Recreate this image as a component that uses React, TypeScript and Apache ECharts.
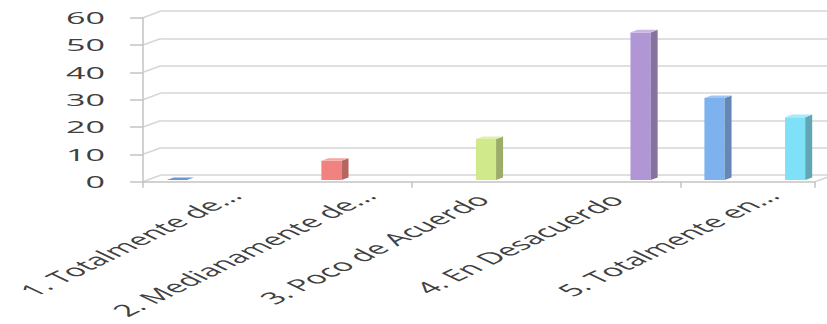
import React, { useEffect, useRef } from "react";
import * as echarts from "echarts";

// ---- data ----
const categories = [
  "1. Totalmente de...",
  "2. Medianamente de...",
  "3. Poco de Acuerdo",
  "4. En Desacuerdo",
  "5. Totalmente en...",
];
const serie1: (number | null)[] = [0, null, null, null, 30];
const serie2: (number | null)[] = [null, 7, null, null, null];
const serie3: (number | null)[] = [null, null, 15, null, null];
const serie4: (number | null)[] = [null, null, null, 54, null];
const serie5: (number | null)[] = [null, null, null, null, 23];
const yTicks = [0, 10, 20, 30, 40, 50, 60];

const allSeries = [serie1, serie2, serie3, serie4, serie5];

// ---- styles ----
const palette = [
  { front: "#7eb2ee", side: "#6388b8", top: "#a2c6f3", zero: "#6a96d4" },
  { front: "#f2827f", side: "#b56663", top: "#f6a4a1", zero: "#f2827f" },
  { front: "#d0ea8b", side: "#9cad69", top: "#e0f1ad", zero: "#d0ea8b" },
  { front: "#b196d5", side: "#86729f", top: "#c9b6e4", zero: "#b196d5" },
  { front: "#7ee1f8", side: "#62a6b6", top: "#a9ebfb", zero: "#7ee1f8" },
];
const GRID_LEFT = 143;
const GRID_TOP = 17.7;
const GRID_W = 672;
const GRID_H = 164;
const DEPTH_X = 18;
const DEPTH_Y = 6.6;
const BAR_SHIFT_X = 7;
const BAR_SHIFT_Y = -1.7;
const BAR_DX = 7;
const BAR_DY = 2.6;
const GAP = 0.25;
const SLOTS = 5;
const AXIS_COLOR = "#c3c3c3";
const GRID_COLOR = "#d6d6d6";
const TEXT_COLOR = "#404040";
const FONT = "'Open Sans', sans-serif";
const FONT_SIZE = 16.4;
const STRETCH = 2.08;
// Excel shifts truncated (ellipsis) labels up-right relative to full labels
const TRUNC_DX = 21;
const TRUNC_DY = -4;

function barRender(slot: number) {
  const c = palette[slot];
  return (params: any, api: any) => {
    const cat = api.value(0);
    const val = api.value(1);
    const band = api.size([1, 0])[0];
    const base = api.coord([cat, 0]);
    const top = api.coord([cat, val]);
    const slotW = (band * (1 - GAP)) / SLOTS;
    const x0 = base[0] - band / 2 + (band * GAP) / 2 + slot * slotW + BAR_SHIFT_X;
    const x1 = x0 + slotW;
    const yb = base[1] + BAR_SHIFT_Y;
    const yt = top[1] + BAR_SHIFT_Y;
    const children: any[] = [];
    if (yb - yt > 0.5) {
      children.push({
        type: "polygon",
        shape: { points: [[x0, yt], [x1, yt], [x1, yb], [x0, yb]] },
        style: { fill: c.front },
      });
      children.push({
        type: "polygon",
        shape: { points: [[x1, yt], [x1 + BAR_DX, yt - BAR_DY], [x1 + BAR_DX, yb - BAR_DY], [x1, yb]] },
        style: { fill: c.side },
      });
    }
    children.push({
      type: "polygon",
      shape: { points: [[x0, yt], [x1, yt], [x1 + BAR_DX, yt - BAR_DY], [x0 + BAR_DX, yt - BAR_DY]] },
      style: { fill: yb - yt > 0.5 ? c.top : c.zero },
    });
    return { type: "group", children };
  };
}

export default function App() {
  const ref = useRef<HTMLDivElement>(null);
  useEffect(() => {
    document.body.style.margin = "0";
    const chart = echarts.init(ref.current!, null, { renderer: "svg" });

    const barSeries = allSeries.map((arr, slot) => ({
      type: "custom",
      name: "S" + (slot + 1),
      xAxisIndex: 0,
      yAxisIndex: 0,
      z: 5,
      encode: { x: 0, y: 1 },
      renderItem: barRender(slot),
      data: arr
        .map((v, i) => (v === null ? null : [i, v]))
        .filter((d) => d !== null),
    }));

    chart.setOption({
      animation: false,
      grid: [
        { left: GRID_LEFT, top: GRID_TOP, width: GRID_W, height: GRID_H },
        { left: GRID_LEFT + DEPTH_X, top: GRID_TOP - DEPTH_Y, width: GRID_W + 20, height: GRID_H },
      ],
      xAxis: [
        {
          type: "category",
          gridIndex: 0,
          data: categories,
          axisLine: { show: true, lineStyle: { color: AXIS_COLOR, width: 1.5 } },
          axisTick: { show: true, length: 6, lineStyle: { color: AXIS_COLOR, width: 1.5 } },
          axisLabel: { show: false },
          splitLine: { show: false },
          z: 3,
        },
        { type: "value", gridIndex: 1, show: false, min: 0, max: 1 },
      ],
      yAxis: [
        {
          type: "value",
          gridIndex: 0,
          min: 0,
          max: 60,
          interval: 10,
          axisLine: { show: true, lineStyle: { color: AXIS_COLOR, width: 1.5 } },
          axisTick: { show: true, length: 13, lineStyle: { color: AXIS_COLOR, width: 1.5 } },
          axisLabel: { show: false },
          splitLine: { show: false },
          z: 3,
        },
        {
          type: "value",
          gridIndex: 1,
          min: 0,
          max: 60,
          interval: 10,
          axisLine: { show: false },
          axisTick: { show: false },
          axisLabel: { show: false },
          splitLine: { show: true, lineStyle: { color: GRID_COLOR, width: 1.6 } },
        },
      ],
      series: [
        {
          type: "custom",
          xAxisIndex: 0,
          yAxisIndex: 0,
          z: 2,
          encode: { x: 0, y: 1 },
          renderItem: (params: any, api: any) => {
            const p = api.coord([api.value(0), api.value(1)]);
            const band = api.size([1, 0])[0];
            const xl = p[0] - band / 2;
            return {
              type: "line",
              shape: { x1: xl, y1: p[1], x2: xl + DEPTH_X, y2: p[1] - DEPTH_Y },
              style: { stroke: GRID_COLOR, lineWidth: 1.6 },
            };
          },
          data: yTicks.map((v) => [0, v]),
        },
        {
          type: "custom",
          xAxisIndex: 0,
          yAxisIndex: 0,
          z: 2,
          encode: { x: 0, y: 1 },
          renderItem: (params: any, api: any) => {
            const p = api.coord([api.value(0), api.value(1)]);
            const band = api.size([1, 0])[0];
            const xr = p[0] + band / 2;
            return {
              type: "line",
              shape: { x1: xr, y1: p[1], x2: xr + DEPTH_X, y2: p[1] - DEPTH_Y },
              style: { stroke: GRID_COLOR, lineWidth: 1.6 },
            };
          },
          data: [[categories.length - 1, 0]],
        },
        ...barSeries,
      ],
    });

    // stretched axis texts placed through the axes' own scales
    const textStyle = {
      fontSize: FONT_SIZE,
      fontFamily: FONT,
      fill: TEXT_COLOR,
    };
    const yLabels = yTicks.map((v) => {
      const py = chart.convertToPixel({ yAxisIndex: 0 }, v) as number;
      return {
        type: "group",
        x: GRID_LEFT - 38,
        y: py,
        scaleX: STRETCH,
        children: [
          {
            type: "text",
            style: { ...textStyle, text: String(v), align: "right", verticalAlign: "middle" },
          },
        ],
      };
    });
    const y0 = chart.convertToPixel({ yAxisIndex: 0 }, 0) as number;
    const xLabels = categories.map((name, i) => {
      const px = chart.convertToPixel({ xAxisIndex: 0 }, i) as number;
      const truncated = name.endsWith("...");
      return {
        type: "group",
        x: px + 3 + (truncated ? TRUNC_DX : 0),
        y: y0 + 15 + (truncated ? TRUNC_DY : 0),
        scaleX: STRETCH,
        children: [
          {
            type: "text",
            rotation: Math.PI / 4,
            style: { ...textStyle, text: name, align: "right", verticalAlign: "middle" },
          },
        ],
      };
    });
    chart.setOption({ graphic: [...yLabels, ...xLabels] });

    return () => chart.dispose();
  }, []);
  return <div ref={ref} style={{ width: 827, height: 324 }} />;
}
